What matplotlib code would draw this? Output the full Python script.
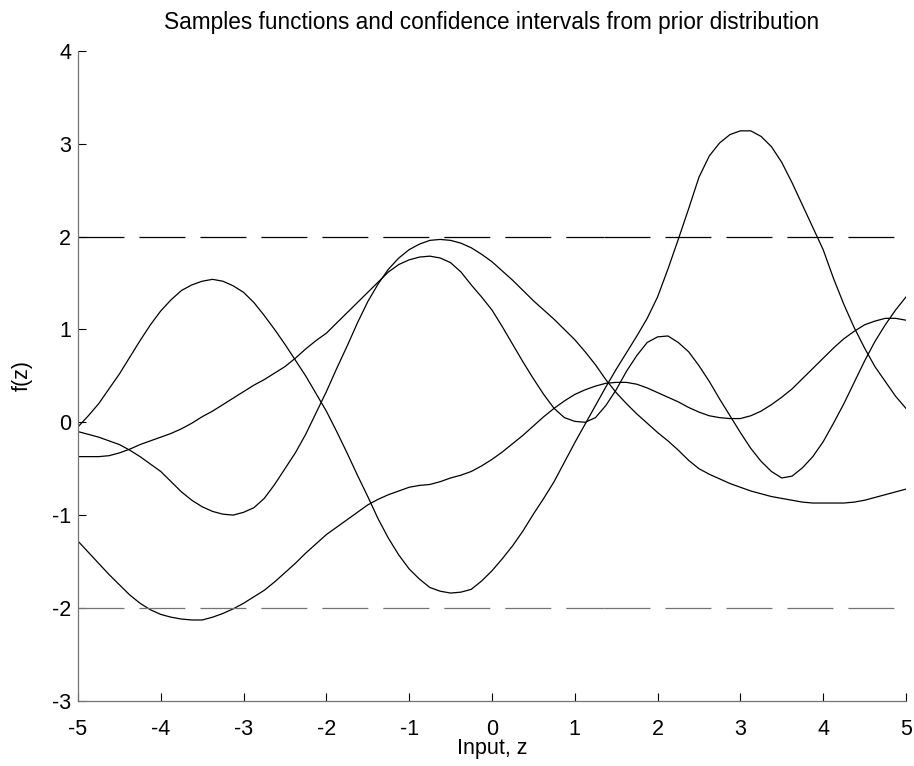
import numpy as np
import matplotlib
matplotlib.use("Agg")
import matplotlib.pyplot as plt

plt.rcParams['font.family'] = ['Liberation Sans', 'DejaVu Sans']
plt.rcParams['axes.unicode_minus'] = False

# input grid, step 0.125
z = np.linspace(-5, 5, 81)

# sample functions drawn from the prior
f1 = [-0.05, 0.07, 0.20, 0.36, 0.52, 0.70, 0.88, 1.05, 1.20, 1.32,
      1.42, 1.48, 1.52, 1.54, 1.52, 1.47, 1.40, 1.29, 1.15, 1.00,
      0.84, 0.67, 0.50, 0.31, 0.12, -0.10, -0.33, -0.57, -0.80, -1.04,
      -1.25, -1.43, -1.58, -1.69, -1.78, -1.82, -1.84, -1.83, -1.80, -1.71,
      -1.60, -1.47, -1.33, -1.17, -0.99, -0.82, -0.64, -0.43, -0.22, -0.02,
      0.18, 0.38, 0.57, 0.75, 0.93, 1.12, 1.35, 1.65, 1.97, 2.30,
      2.64, 2.87, 3.01, 3.10, 3.14, 3.14, 3.08, 2.97, 2.80, 2.58,
      2.34, 2.10, 1.86, 1.55, 1.27, 1.02, 0.80, 0.60, 0.44, 0.28,
      0.15]
f2 = [-0.37, -0.37, -0.37, -0.36, -0.33, -0.29, -0.24, -0.20, -0.16, -0.12,
      -0.07, -0.01, 0.06, 0.12, 0.19, 0.26, 0.33, 0.40, 0.46, 0.53,
      0.60, 0.69, 0.79, 0.88, 0.96, 1.07, 1.18, 1.29, 1.40, 1.51,
      1.62, 1.70, 1.75, 1.78, 1.79, 1.77, 1.72, 1.62, 1.48, 1.35,
      1.21, 1.03, 0.84, 0.65, 0.47, 0.30, 0.15, 0.05, 0.01, 0.00,
      0.05, 0.18, 0.35, 0.55, 0.72, 0.86, 0.92, 0.93, 0.86, 0.76,
      0.61, 0.44, 0.25, 0.07, -0.11, -0.28, -0.42, -0.53, -0.60, -0.58,
      -0.49, -0.37, -0.21, -0.01, 0.20, 0.43, 0.66, 0.87, 1.05, 1.21,
      1.35]
f3 = [-0.10, -0.13, -0.16, -0.20, -0.24, -0.30, -0.37, -0.45, -0.53, -0.64,
      -0.75, -0.84, -0.91, -0.96, -0.99, -1.00, -0.97, -0.92, -0.82, -0.67,
      -0.50, -0.33, -0.13, 0.10, 0.33, 0.58, 0.82, 1.07, 1.30, 1.49,
      1.65, 1.77, 1.86, 1.92, 1.96, 1.97, 1.96, 1.93, 1.88, 1.81,
      1.73, 1.63, 1.53, 1.42, 1.31, 1.21, 1.11, 1.00, 0.89, 0.76,
      0.62, 0.46, 0.32, 0.20, 0.09, -0.01, -0.11, -0.20, -0.30, -0.41,
      -0.50, -0.56, -0.61, -0.66, -0.70, -0.74, -0.77, -0.80, -0.82, -0.84,
      -0.86, -0.87, -0.87, -0.87, -0.87, -0.86, -0.84, -0.81, -0.78, -0.75,
      -0.72]
f4 = [-1.28, -1.40, -1.52, -1.64, -1.75, -1.86, -1.95, -2.02, -2.07, -2.10,
      -2.12, -2.13, -2.13, -2.10, -2.06, -2.01, -1.95, -1.88, -1.81, -1.72,
      -1.62, -1.52, -1.41, -1.31, -1.21, -1.13, -1.05, -0.97, -0.89, -0.83,
      -0.78, -0.74, -0.70, -0.68, -0.67, -0.64, -0.60, -0.57, -0.53, -0.47,
      -0.40, -0.32, -0.23, -0.14, -0.04, 0.06, 0.15, 0.23, 0.30, 0.35,
      0.39, 0.42, 0.43, 0.43, 0.41, 0.37, 0.32, 0.27, 0.22, 0.16,
      0.11, 0.07, 0.05, 0.04, 0.04, 0.07, 0.12, 0.19, 0.27, 0.36,
      0.47, 0.58, 0.69, 0.80, 0.90, 0.98, 1.05, 1.09, 1.12, 1.12,
      1.10]

# +/- 2 standard deviations of the prior
upper = 2.0
lower = -2.0
split = 1.35

fig = plt.figure(figsize=(9.14, 7.66), dpi=100)
ax = fig.add_axes([0.0853, 0.0852, 0.9059, 0.8482])

for f in [f1, f2, f3, f4]:
    ax.plot(z, f, color='k', lw=0.9)

lw_ci = 0.9
dash = (33.1 / lw_ci, 10.8 / lw_ci)
for xs in [(-5, split), (split, 5)]:
    ax.plot(xs, [upper, upper], color='k', lw=lw_ci, dashes=dash)
    ax.plot(xs, [lower, lower], color='0.45', lw=lw_ci, dashes=dash)

ax.set_xlim(-5, 5)
ax.set_ylim(-3, 4)
ax.set_xticks(range(-5, 6))
ax.set_yticks(range(-3, 5))

ax.spines['top'].set_visible(False)
ax.spines['right'].set_visible(False)
for s in ['left', 'bottom']:
    ax.spines[s].set_color('0.45')
    ax.spines[s].set_linewidth(0.9)
ax.tick_params(direction='in', length=6, width=0.8, labelsize=15.5)
ax.tick_params(axis='x', pad=13)
ax.tick_params(axis='y', pad=5)

ax.set_title('Samples functions and confidence intervals from prior distribution',
             fontsize=16.3, pad=16)
ax.set_xlabel('Input, z', fontsize=15.5, labelpad=-1)
ax.set_ylabel('f(z)', fontsize=15.5, labelpad=14)

plt.savefig("out.png", dpi=100)
plt.close()
